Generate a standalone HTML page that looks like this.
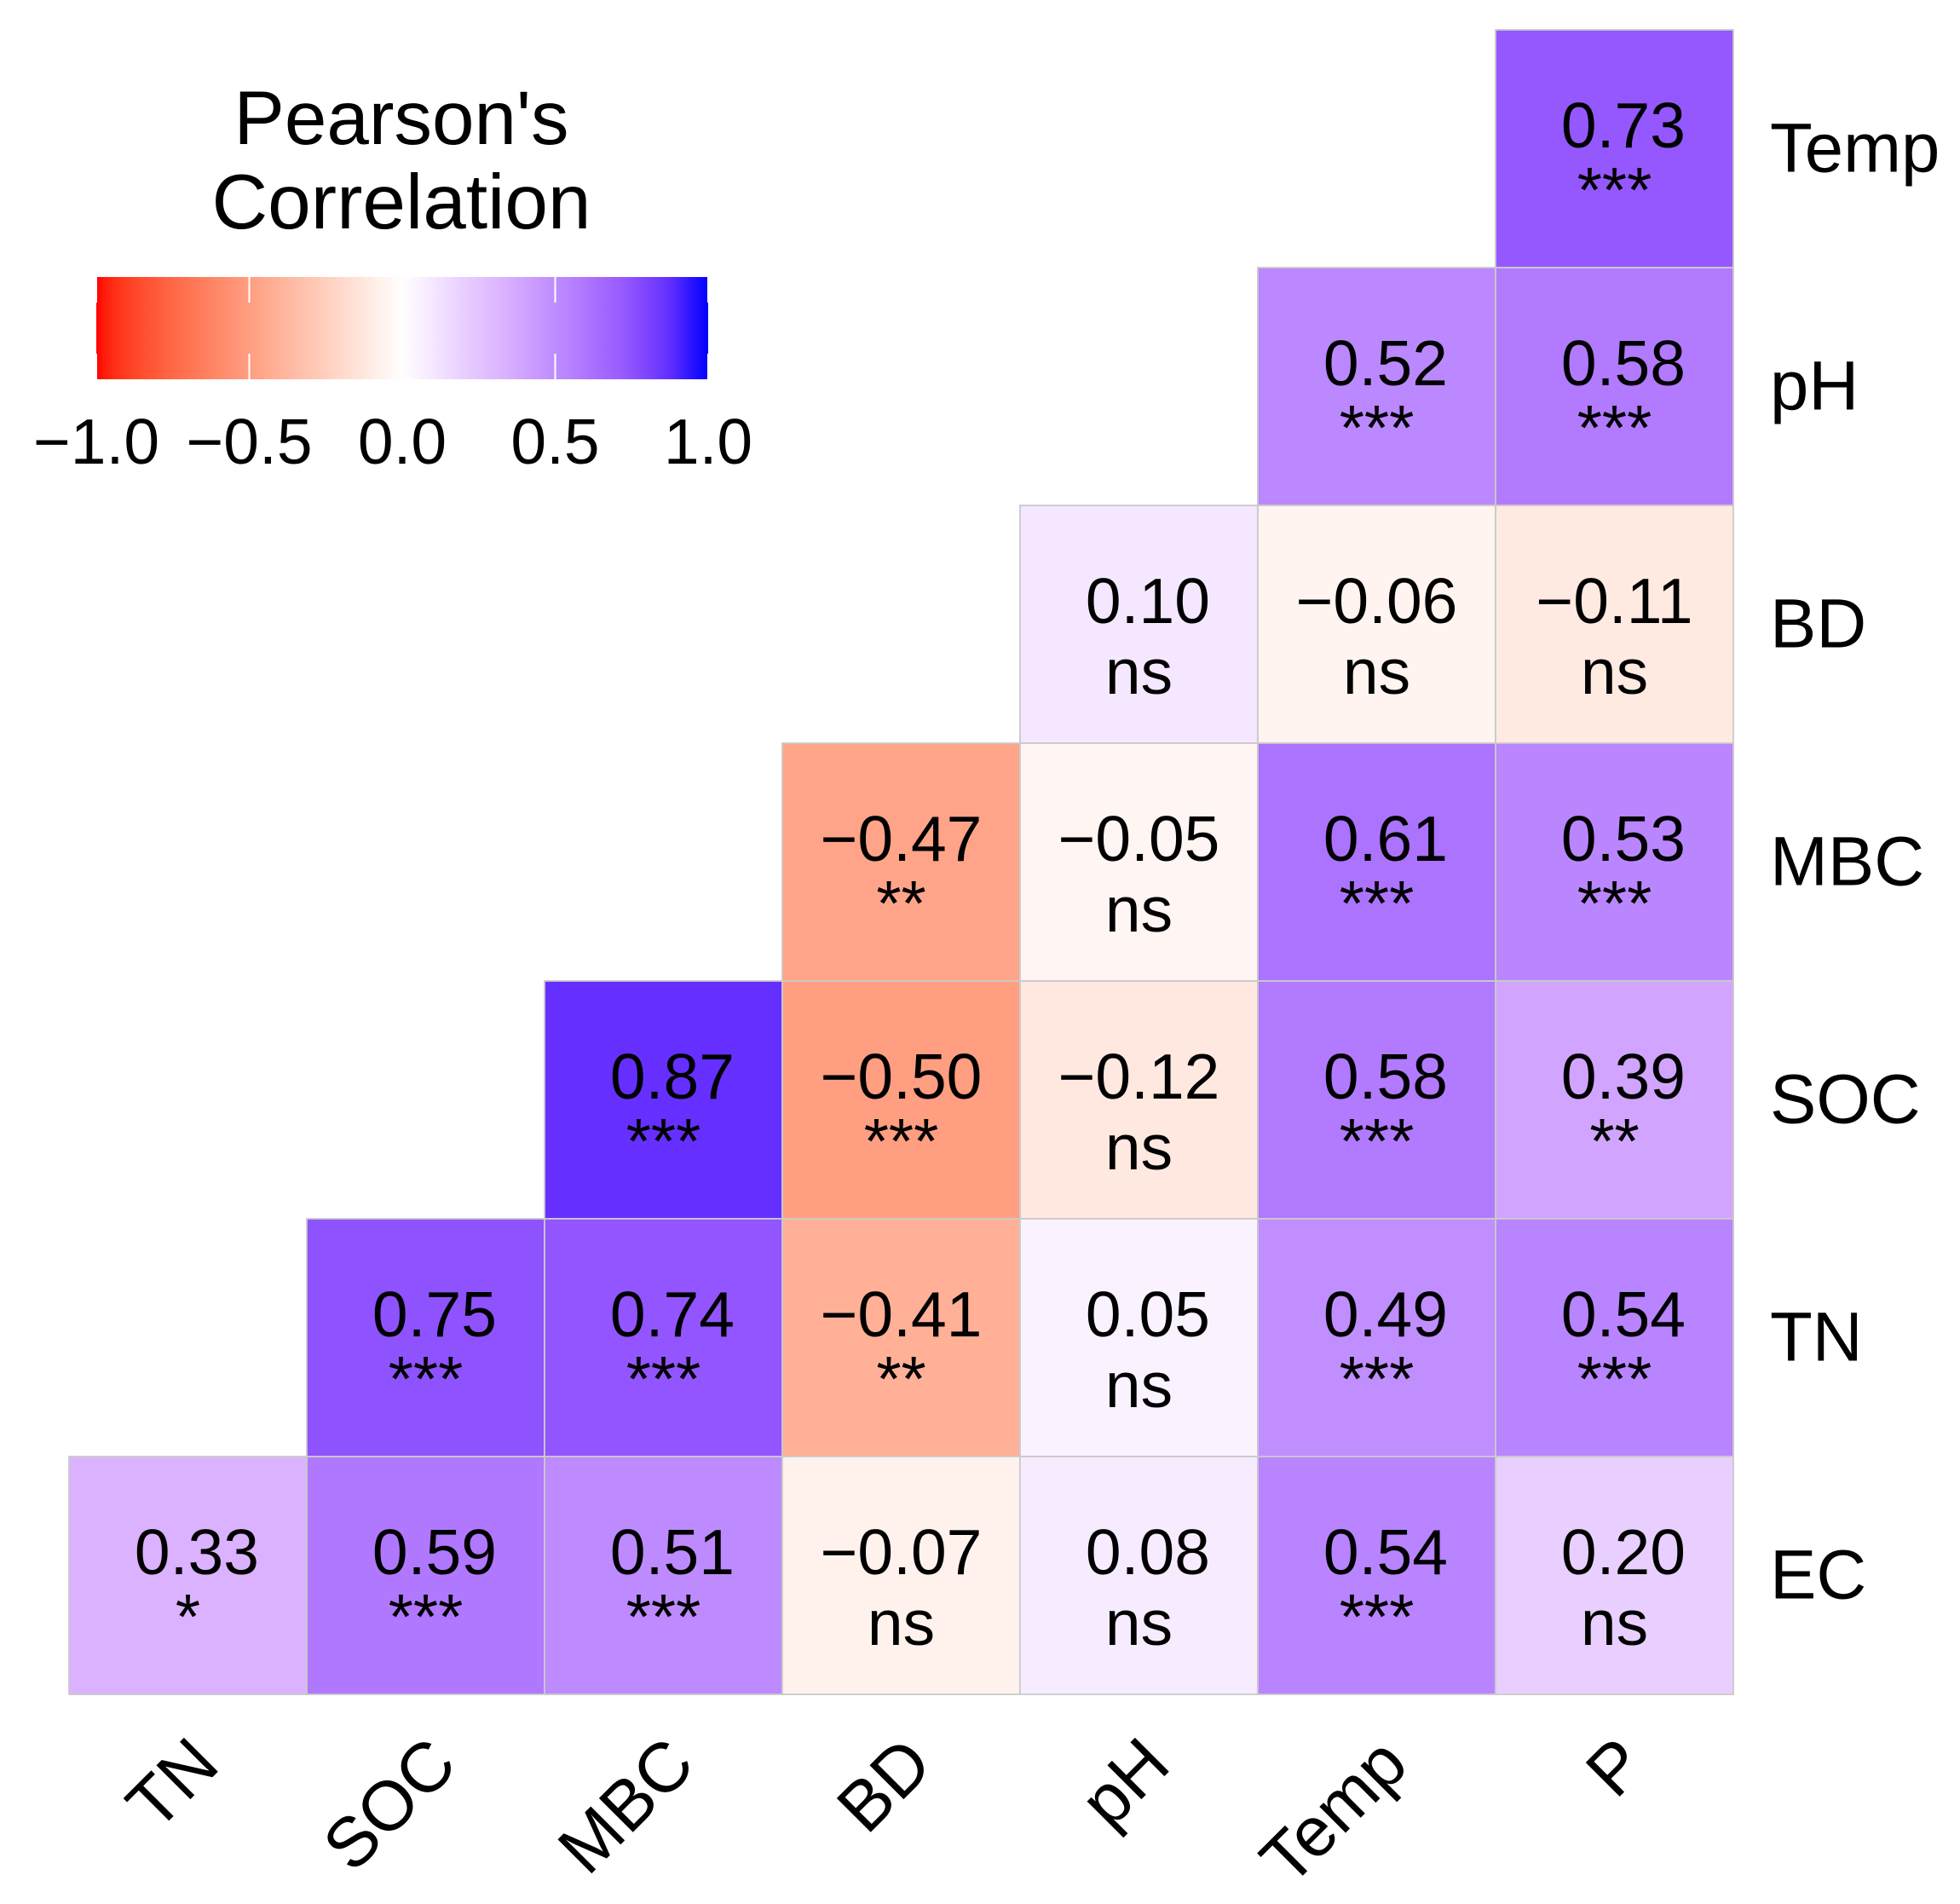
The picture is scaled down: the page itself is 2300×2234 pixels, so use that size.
<!DOCTYPE html>
<html lang="en">
<head>
<meta charset="utf-8">
<title>Pearson's Correlation heatmap</title>
<style>
html,body{margin:0;padding:0;background:#fff;width:2300px;height:2234px;overflow:hidden}
svg{display:block;font-family:"Liberation Sans",Arial,sans-serif;fill:#000}
</style>
</head>
<body>
<svg id="chart" xmlns="http://www.w3.org/2000/svg" width="2300" height="2234" viewBox="0 0 2300 2234">
  <defs>
    <linearGradient id="legend-gradient" x1="0" x2="1" y1="0" y2="0"></linearGradient>
  </defs>
  <rect x="0" y="0" width="2300" height="2234" fill="#fff"></rect>
  <g id="cells"></g>
  <g id="cell-labels"></g>
  <g id="row-labels"></g>
  <g id="col-labels"></g>
  <g id="legend">
    <text x="471" y="169" font-size="89" text-anchor="middle">Pearson's</text>
    <text x="471" y="268" font-size="91" text-anchor="middle">Correlation</text>
    <rect id="legend-bar" x="113" y="325" width="718" height="120" fill="url(#legend-gradient)"></rect>
    <g id="legend-ticks"></g>
  </g>
</svg>
<script>
// ---- chart data ----
var columnLabels = ["TN", "SOC", "MBC", "BD", "pH", "Temp", "P"];
var rowLabels = ["Temp", "pH", "BD", "MBC", "SOC", "TN", "EC"];
var valuesTemp = [null, null, null, null, null, null, 0.73];
var valuesPH = [null, null, null, null, null, 0.52, 0.58];
var valuesBD = [null, null, null, null, 0.10, -0.06, -0.11];
var valuesMBC = [null, null, null, -0.47, -0.05, 0.61, 0.53];
var valuesSOC = [null, null, 0.87, -0.50, -0.12, 0.58, 0.39];
var valuesTN = [null, 0.75, 0.74, -0.41, 0.05, 0.49, 0.54];
var valuesEC = [0.33, 0.59, 0.51, -0.07, 0.08, 0.54, 0.20];
var sigTemp = ["", "", "", "", "", "", "***"];
var sigPH = ["", "", "", "", "", "***", "***"];
var sigBD = ["", "", "", "", "ns", "ns", "ns"];
var sigMBC = ["", "", "", "**", "ns", "***", "***"];
var sigSOC = ["", "", "***", "***", "ns", "***", "**"];
var sigTN = ["", "***", "***", "**", "ns", "***", "***"];
var sigEC = ["*", "***", "***", "ns", "ns", "***", "ns"];
var legendTicks = [-1.0, -0.5, 0.0, 0.5, 1.0];
// colour scale for the positive half: [value, r, g, b]
var positiveScale = [[0, 255, 255, 255], [0.1, 245, 231, 255], [0.2, 233, 207, 255], [0.33, 219, 178, 255], [0.5, 190, 140, 255], [0.54, 184, 132, 255], [0.58, 178, 122, 255], [0.73, 149, 88, 255], [0.87, 101, 48, 255], [1, 0, 0, 255]];

var valueRows = [valuesTemp, valuesPH, valuesBD, valuesMBC, valuesSOC, valuesTN, valuesEC];
var sigRows = [sigTemp, sigPH, sigBD, sigMBC, sigSOC, sigTN, sigEC];

// ---- axis functions ----
var plotLeft = 81, plotTop = 35, cellSize = 279;
function xBand(i) { return plotLeft + i * cellSize; }
function yBand(j) { return plotTop + j * cellSize; }
function legendX(v) { return 472 + v * 359; }

// ---- colour scale: red side interpolated in Lab, blue side from the scale table ----
function toLin(c) { c /= 255; return c <= 0.04045 ? c / 12.92 : Math.pow((c + 0.055) / 1.055, 2.4); }
function fromLin(c) { var s = c <= 0.0031308 ? 12.92 * c : 1.055 * Math.pow(c, 1 / 2.4) - 0.055; return Math.round(Math.max(0, Math.min(1, s)) * 255); }
function rgbToLab(r, g, b) {
  var R = toLin(r), G = toLin(g), B = toLin(b);
  var X = (0.4124564 * R + 0.3575761 * G + 0.1804375 * B) / 0.95047;
  var Y = 0.2126729 * R + 0.7151522 * G + 0.0721750 * B;
  var Z = (0.0193339 * R + 0.1191920 * G + 0.9503041 * B) / 1.08883;
  function f(t) { return t > 0.008856 ? Math.cbrt(t) : 7.787 * t + 16 / 116; }
  return [116 * f(Y) - 16, 500 * (f(X) - f(Y)), 200 * (f(Y) - f(Z))];
}
function labToRgb(L, a, b) {
  var fy = (L + 16) / 116, fx = fy + a / 500, fz = fy - b / 200;
  function g(t) { return t * t * t > 0.008856 ? t * t * t : (t - 16 / 116) / 7.787; }
  var X = g(fx) * 0.95047, Y = g(fy), Z = g(fz) * 1.08883;
  var R = 3.2404542 * X - 1.5371385 * Y - 0.4985314 * Z;
  var G = -0.9692660 * X + 1.8760108 * Y + 0.0415560 * Z;
  var B = 0.0556434 * X - 0.2040259 * Y + 1.0572252 * Z;
  return "rgb(" + fromLin(R) + "," + fromLin(G) + "," + fromLin(B) + ")";
}
var labWhite = rgbToLab(255, 255, 255), labRed = rgbToLab(255, 0, 0);
function fillColour(v) {
  if (v < 0) {
    var t = -v;
    return labToRgb(labWhite[0] + (labRed[0] - labWhite[0]) * t, labWhite[1] + (labRed[1] - labWhite[1]) * t, labWhite[2] + (labRed[2] - labWhite[2]) * t);
  }
  for (var k = 1; k < positiveScale.length; k++) {
    var a = positiveScale[k - 1], b = positiveScale[k];
    if (v <= b[0]) {
      var u = (v - a[0]) / (b[0] - a[0]);
      return "rgb(" + Math.round(a[1] + (b[1] - a[1]) * u) + "," + Math.round(a[2] + (b[2] - a[2]) * u) + "," + Math.round(a[3] + (b[3] - a[3]) * u) + ")";
    }
  }
  return "rgb(0,0,255)";
}
function formatValue(v) {
  return v < 0 ? "\u2212" + Math.abs(v).toFixed(2) : "\u00a0" + v.toFixed(2);
}
function formatTick(v) {
  return v < 0 ? "\u2212" + Math.abs(v).toFixed(1) : v.toFixed(1);
}
var NS = "http://www.w3.org/2000/svg";
function make(tag, attrs, parent, txt) {
  var el = document.createElementNS(NS, tag);
  for (var k in attrs) { el.setAttribute(k, attrs[k]); }
  if (txt !== undefined) { el.textContent = txt; }
  parent.appendChild(el);
  return el;
}

// ---- cells ----
var cellsG = document.getElementById("cells");
var labelsG = document.getElementById("cell-labels");
valueRows.forEach(function (row, j) {
  row.forEach(function (v, i) {
    if (v === null) { return; }
    var rect = make("rect", { x: xBand(i), y: yBand(j), width: cellSize, height: cellSize, fill: fillColour(v), stroke: "#cacaca", "stroke-width": 1.8 }, cellsG);
    
    
    var cx = xBand(i) + cellSize / 2;
    var t1 = make("text", { x: cx, y: yBand(j) + 138, "font-size": 75, "text-anchor": "middle" }, labelsG, formatValue(v));
    
    
    var sig = sigRows[j][i];
    var t2 = make("text", { x: cx, y: yBand(j) + (sig === "ns" ? 221 : 214), "font-size": 75, "text-anchor": "middle" }, labelsG, sig);
    
    
  });
});

// ---- axis labels ----
var rowG = document.getElementById("row-labels");
rowLabels.forEach(function (lab, j) {
  var t = make("text", { x: 2077, y: yBand(j) + cellSize / 2 + 27, "font-size": 81.5 }, rowG, lab);
  
  
});
var colG = document.getElementById("col-labels");
columnLabels.forEach(function (lab, i) {
  var ax = xBand(i) + cellSize / 2 + 40, ay = 2074;
  var t = make("text", { x: ax, y: ay, "font-size": 82, "text-anchor": "end", transform: "rotate(-45 " + ax + " " + ay + ")" }, colG, lab);
  
  
});

// ---- legend ----
var grad = document.getElementById("legend-gradient");
for (var s = 0; s <= 80; s++) {
  make("stop", { offset: (s / 80 * 100) + "%", "stop-color": fillColour(s / 40 - 1) }, grad);
}
var tickG = document.getElementById("legend-ticks");
legendTicks.forEach(function (v) {
  var x = legendX(v);
  var top = make("rect", { x: x - 1, y: 325, width: 2, height: 30, fill: "#fff" }, tickG);
  
  
  var bottom = make("rect", { x: x - 1, y: 415, width: 2, height: 30, fill: "#fff" }, tickG);
  
  
  var t = make("text", { x: x, y: 544, "font-size": 75, "text-anchor": "middle" }, tickG, formatTick(v));
  
  
});
</script>
</body>
</html>
